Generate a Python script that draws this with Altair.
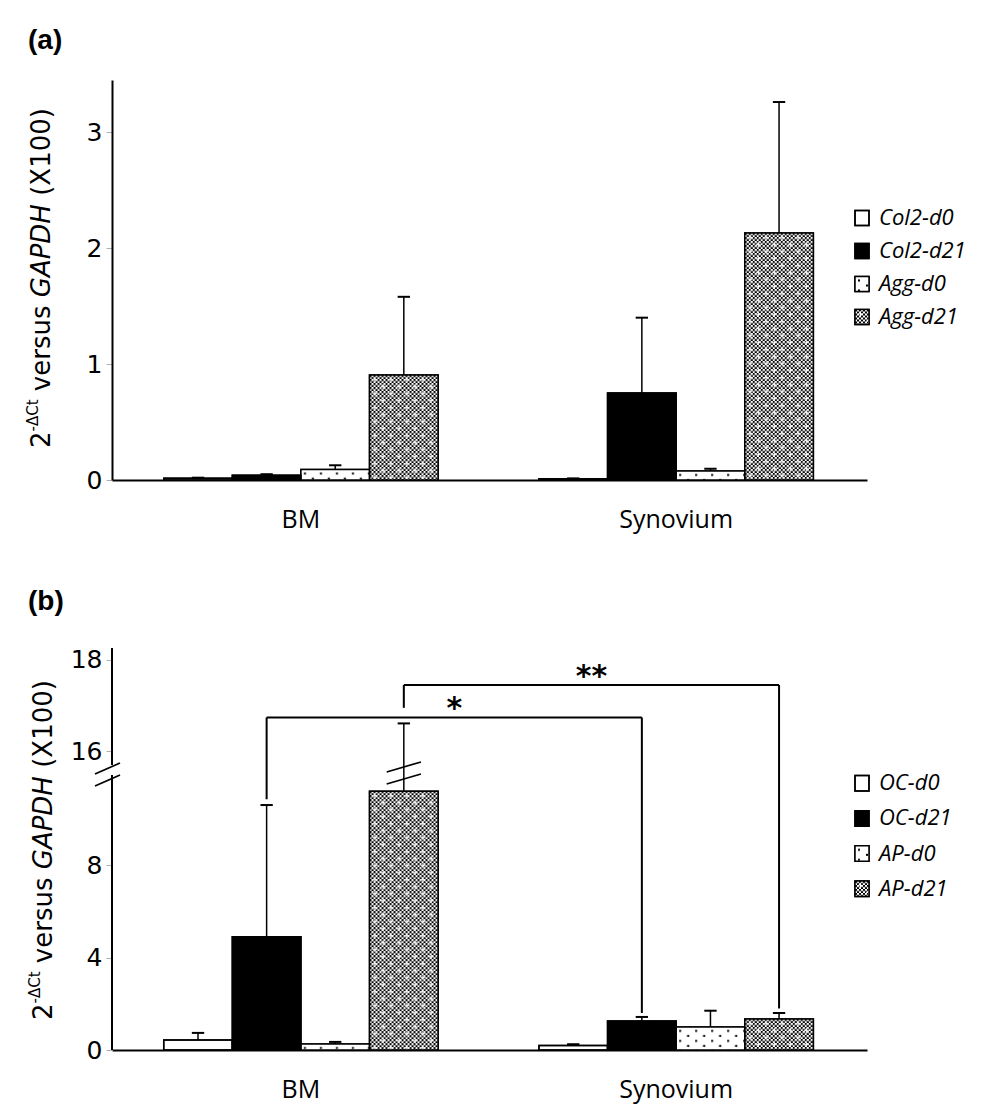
import base64
import altair as alt
import pandas as pd

# ---------------- data ----------------
groups = ["BM", "Synovium"]

series_a = ["Col2-d0", "Col2-d21", "Agg-d0", "Agg-d21"]
bm_mean_a = [0.015, 0.04, 0.09, 0.905]
bm_top_a = [0.02, 0.05, 0.127, 1.58]
syn_mean_a = [0.01, 0.75, 0.078, 2.13]
syn_top_a = [0.014, 1.40, 0.097, 3.26]

series_b = ["OC-d0", "OC-d21", "AP-d0", "AP-d21"]
bm_mean_b = [0.43, 4.9, 0.26, 11.2]
bm_top_b = [0.74, 10.6, 0.35, 16.61]
syn_mean_b = [0.2, 1.25, 1.0, 1.34]
syn_top_b = [0.25, 1.43, 1.7, 1.6]

ticks_a = [0, 1, 2, 3]
ticks_b = [0, 4, 8, 16, 18]

# significance brackets in (b): same series, BM vs Synovium
sig_series_idx = [1, 3]
sig_level = [16.74, 17.45]
sig_left_end = [10.85, 16.95]
sig_right_end = [1.6, 1.8]
sig_label = ["*", "**"]

# y-axis break in (b)
break_lo = 11.9
break_hi = 15.7

# ---------------- styling helpers ----------------
styles = ["open", "solid", "dots", "check"]
fill_range = ["white", "black", "white", "#7a7a7a"]


def svg_uri(body):
    svg = ("<svg xmlns='http://www.w3.org/2000/svg' width='100%' height='100%'>"
           + body + "</svg>")
    return "data:image/svg+xml;base64," + base64.b64encode(svg.encode()).decode()


dots_uri = svg_uri(
    "<defs><pattern id='d' width='16' height='10' patternUnits='userSpaceOnUse'>"
    "<rect width='16' height='10' fill='white'/>"
    "<rect x='3' y='3' width='2' height='2' fill='black'/>"
    "<rect x='11' y='8' width='2' height='2' fill='black'/>"
    "</pattern></defs><rect width='100%' height='100%' fill='url(#d)'/>"
)
check_uri = svg_uri(
    "<defs><pattern id='c' width='4' height='4' patternUnits='userSpaceOnUse'>"
    "<rect width='4' height='4' fill='white'/>"
    "<rect width='2' height='2' fill='black'/>"
    "<rect x='2' y='2' width='2' height='2' fill='black'/></pattern>"
    "<pattern id='x' width='16' height='14' patternUnits='userSpaceOnUse'>"
    "<rect x='3' y='4' width='5' height='1' fill='white'/>"
    "<rect x='5' y='2' width='1' height='5' fill='white'/>"
    "<rect x='11' y='11' width='5' height='1' fill='white'/>"
    "<rect x='13' y='9' width='1' height='5' fill='white'/>"
    "</pattern></defs>"
    "<rect width='100%' height='100%' fill='url(#c)'/>"
    "<rect width='100%' height='100%' fill='url(#x)'/>"
)
url_of = {"open": "", "solid": "", "dots": dots_uri, "check": check_uri}

GROUP_STEP = 5.47
XMIN, XMAX = -1.254, 9.752
W = 755

# DejaVu Sans advance widths (em)
CW = {"2": 0.636, "-": 0.361, "Δ": 0.684, "C": 0.698, "t": 0.392, " ": 0.318,
      "v": 0.592, "e": 0.615, "r": 0.411, "s": 0.521, "u": 0.634, "G": 0.776,
      "A": 0.684, "P": 0.603, "D": 0.770, "H": 0.752, "(": 0.390, "X": 0.686,
      "1": 0.636, "0": 0.636, ")": 0.390}


def tw(s, size):
    return sum(CW.get(ch, 0.6) for ch in s) * size


one = pd.DataFrame({"k": [0]})


def ytitle(xc, ystart, f=26, fs=15):
    parts = [("2", f, "normal", 0, 0),
             ("-ΔCt", fs, "normal", -9, 0),
             ("versus", f, "normal", 0, 0.318 * f),
             ("GAPDH", f, "italic", 0, 0.318 * f),
             ("(X100)", f, "normal", 0, 0.318 * f)]
    layers = []
    y = ystart
    for txt, size, style, dx, gap in parts:
        y -= gap
        layers.append(
            alt.Chart(one).mark_text(
                text=txt, font="DejaVu Sans", fontSize=size, fontStyle=style,
                angle=270, align="left", baseline="middle", color="black"
            ).encode(x=alt.value(xc + dx), y=alt.value(y))
        )
        y -= tw(txt, size)
    return layers


def panel(letter, series, bm_mean, bm_top, syn_mean, syn_top, yscale, yticks,
          height, leg_range, leg_pi, title_x, title_y0, letter_y, broken=False):
    rows = []
    for gi, (means, tops) in enumerate([(bm_mean, bm_top), (syn_mean, syn_top)]):
        for si, s in enumerate(series):
            p = gi * GROUP_STEP + si
            rows.append({"group": groups[gi], "series": s, "style": styles[si],
                         "pos": p, "x0": p - 0.5, "x1": p + 0.5,
                         "cl": p - 0.09, "cr": p + 0.09,
                         "mean": means[si], "top": tops[si],
                         "url": url_of[styles[si]]})
    df = pd.DataFrame(rows)

    xs = alt.Scale(domain=[XMIN, XMAX], nice=False, zero=False)
    xaxis = alt.Axis(labels=False, ticks=False, grid=False, title=None,
                     domainColor="black", domainWidth=2)
    yaxis = alt.Axis(values=yticks, grid=False, title=None, domain=not broken,
                     domainColor="black", domainWidth=2, labelFont="DejaVu Sans",
                     labelFontSize=25, labelColor="black", tickColor="#b0b0b0",
                     tickSize=6, tickWidth=1, labelPadding=4)
    fill = alt.Fill("style:N", scale=alt.Scale(domain=styles, range=fill_range),
                    legend=None)

    base = alt.Chart(df)
    bars = base.mark_rect(stroke="black", strokeWidth=1.5).encode(
        x=alt.X("x0:Q", scale=xs, axis=xaxis), x2="x1:Q",
        y=alt.Y("mean:Q", scale=yscale, axis=yaxis), y2=alt.datum(0), fill=fill)
    pats = base.transform_filter("datum.url != ''").mark_image(aspect=False).encode(
        x=alt.X("x0:Q", scale=xs, axis=xaxis), x2="x1:Q",
        y=alt.Y("mean:Q", scale=yscale, axis=yaxis), y2=alt.datum(0), url="url:N")
    outline = base.mark_rect(fillOpacity=0, stroke="black", strokeWidth=1.5).encode(
        x=alt.X("x0:Q", scale=xs, axis=xaxis), x2="x1:Q",
        y=alt.Y("mean:Q", scale=yscale, axis=yaxis), y2=alt.datum(0))
    err = base.mark_rule(color="black", strokeWidth=1.5).encode(
        x=alt.X("pos:Q", scale=xs, axis=xaxis),
        y=alt.Y("mean:Q", scale=yscale, axis=yaxis), y2="top:Q")
    cap = base.mark_rule(color="black", strokeWidth=2).encode(
        x=alt.X("cl:Q", scale=xs, axis=xaxis), x2="cr:Q",
        y=alt.Y("top:Q", scale=yscale, axis=yaxis))

    lab_df = pd.DataFrame({"group": groups,
                           "pos": [gi * GROUP_STEP + 1.5 for gi in range(len(groups))]})
    xlabels = alt.Chart(lab_df).mark_text(
        font="Open Sans", fontSize=25, color="black", baseline="middle").encode(
        x=alt.X("pos:Q", scale=xs, axis=xaxis), y=alt.value(height + 40),
        text="group:N")

    layers = [bars, pats, outline, err, cap, xlabels]

    if broken:
        seg = pd.DataFrame({"lo": [0, break_hi], "hi": [break_lo, yscale.domain[-1]]})
        layers.append(alt.Chart(seg).mark_rule(color="black", strokeWidth=2).encode(
            x=alt.value(0), y=alt.Y("lo:Q", scale=yscale, axis=yaxis), y2="hi:Q"))
        # axis break slashes
        for dy in (0, 12):
            layers.append(alt.Chart(one).mark_rule(color="black", strokeWidth=1.8).encode(
                x=alt.value(-17), x2=alt.value(8),
                y=alt.value(126 + dy), y2=alt.value(115 + dy)))
        # error bar break slashes on the tallest bar
        tall = df[df["mean"] == df["mean"].max()]
        for dy in (0, 12):
            layers.append(alt.Chart(tall).transform_calculate(
                a="datum.pos - 0.25", b="datum.pos + 0.25").mark_rule(
                color="black", strokeWidth=1.8).encode(
                x=alt.X("a:Q", scale=xs, axis=xaxis), x2="b:Q",
                y=alt.value(124 + dy), y2=alt.value(114 + dy)))
        # significance brackets
        sig = pd.DataFrame({
            "a": [float(i) for i in sig_series_idx],
            "b": [GROUP_STEP + i for i in sig_series_idx],
            "lvl": sig_level, "le": sig_left_end, "re": sig_right_end,
            "lab": sig_label})
        sig["mid"] = (sig["a"] + sig["b"]) / 2
        sb = alt.Chart(sig)
        layers += [
            sb.mark_rule(color="black", strokeWidth=2).encode(
                x=alt.X("a:Q", scale=xs, axis=xaxis), x2="b:Q",
                y=alt.Y("lvl:Q", scale=yscale, axis=yaxis)),
            sb.mark_rule(color="black", strokeWidth=2).encode(
                x=alt.X("a:Q", scale=xs, axis=xaxis),
                y=alt.Y("lvl:Q", scale=yscale, axis=yaxis), y2="le:Q"),
            sb.mark_rule(color="black", strokeWidth=2).encode(
                x=alt.X("b:Q", scale=xs, axis=xaxis),
                y=alt.Y("lvl:Q", scale=yscale, axis=yaxis), y2="re:Q"),
            sb.mark_text(font="DejaVu Sans", fontWeight="bold", fontSize=30,
                         color="black", baseline="middle", dy=-8).encode(
                x=alt.X("mid:Q", scale=xs, axis=xaxis),
                y=alt.Y("lvl:Q", scale=yscale, axis=yaxis), text="lab:N"),
        ]

    layers += ytitle(title_x, title_y0)
    layers.append(alt.Chart(one).mark_text(
        text=letter, font="Liberation Sans", fontWeight="bold", fontSize=28,
        align="left", baseline="alphabetic", color="black").encode(
        x=alt.value(-84), y=alt.value(letter_y)))

    main = alt.layer(*layers)

    # legend (own y scale)
    leg_df = pd.DataFrame({"series": series, "style": styles,
                           "url": [url_of[s] for s in styles]})
    ly = alt.Y("series:N", scale=alt.Scale(domain=series, range=leg_range,
                                           paddingInner=leg_pi, paddingOuter=0),
               axis=None, sort=series)
    lb = alt.Chart(leg_df)
    leg = alt.layer(
        lb.mark_rect(stroke="black", strokeWidth=1.5).encode(
            x=alt.value(743), x2=alt.value(757), y=ly, fill=fill),
        lb.transform_filter("datum.url != ''").mark_image(aspect=False).encode(
            x=alt.value(743), x2=alt.value(757), y=ly, url="url:N"),
        lb.mark_rect(fillOpacity=0, stroke="black", strokeWidth=1.5).encode(
            x=alt.value(743), x2=alt.value(757), y=ly),
        lb.mark_text(font="Open Sans", fontStyle="italic", fontSize=22,
                     color="black", align="left", baseline="middle").encode(
            x=alt.value(767), y=ly, text="series:N"),
    )
    return alt.layer(main, leg).resolve_scale(y="independent").properties(
        width=W, height=height)


ys_a = alt.Scale(domain=[0, 3.45], range=[400, 0], nice=False, zero=False)
ys_b = alt.Scale(domain=[0, break_lo, break_hi, 18.26], range=[402, 127, 117, 0],
                 nice=False, zero=False)

pa = panel("(a)", series_a, bm_mean_a, bm_top_a, syn_mean_a, syn_top_a, ys_a,
           ticks_a, 400, [130.5, 244.5], 0.545, -70, 368, -31)
pb = panel("(b)", series_b, bm_mean_b, bm_top_b, syn_mean_b, syn_top_b, ys_b,
           ticks_b, 402, [127.5, 248.5], 0.559, -68, 372, -38, broken=True)

chart = alt.vconcat(pa, pb, spacing=55).properties(
    padding={"left": 18, "top": 19, "right": 5, "bottom": 5}
).configure_view(stroke=None)

chart.save("out.html", embed_options={"renderer": "svg", "actions": False})
